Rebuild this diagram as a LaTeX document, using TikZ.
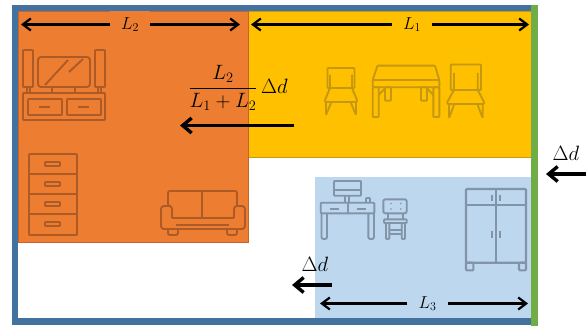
\documentclass[tikz,border=0pt]{standalone}
\usepackage{amsmath}
\usepackage{tikz}
\usetikzlibrary{arrows.meta}
\definecolor{wallblue}{RGB}{68,114,160}
\definecolor{wallgreen}{RGB}{112,173,71}
\definecolor{roomorange}{RGB}{237,125,49}
\definecolor{edgeorange}{RGB}{197,100,40}
\definecolor{roomyellow}{RGB}{255,192,0}
\definecolor{edgeyellow}{RGB}{200,155,10}
\definecolor{roomblue}{RGB}{189,215,238}
\definecolor{iconorange}{RGB}{172,90,38}
\definecolor{iconyellow}{RGB}{198,152,16}
\definecolor{iconblue}{RGB}{130,148,168}
\tikzset{
  dimarrow/.style={line width=2.2pt, -{Straight Barb[length=8pt,width=12pt]}},
  pusharrow/.style={line width=3.4pt, -{Straight Barb[length=9pt,width=15pt]}},
  dimlabel/.style={minimum width=40pt, minimum height=27pt, inner sep=0pt},
  icon/.style={line width=1.9pt, line join=round, rounded corners=0.8pt}
}

\begin{document}
\begin{tikzpicture}[x=1pt, y=-1pt]
  \useasboundingbox (0,0) rectangle (588,326);
  % rooms
  \fill[roomblue] (315,177) rectangle (531,318);
  \draw[edgeyellow, fill=roomyellow] (248,11) rectangle (531,157);
  \draw[edgeorange, fill=roomorange] (18,11) rectangle (248,242);
  % walls
  \fill[wallblue] (12,5) rectangle (18,325);
  \fill[wallblue] (12,5) rectangle (531,11);
  \fill[wallblue] (12,318) rectangle (531,325);
  \fill[wallgreen] (531,5) rectangle (538,326);

  % tv unit
  \begin{scope}[icon, iconorange]
    \draw (23,50) rectangle (33,87);
    \draw (95,50) rectangle (105,87);
    \draw[rounded corners=3pt] (38,57) rectangle (90,87);
    \draw (45,85) -- (68,60) (69,72) -- (83,59);
    \draw (27,87) -- (27,93) (30,87) -- (30,93) (98,87) -- (98,93) (101,87) -- (101,93);
    \draw (52,87) -- (52,93) (75,87) -- (75,93);
    \draw (23,93) rectangle (105,120);
    \draw (28,99) rectangle (62,115) (67,99) rectangle (101,115);
    \draw (39,107) -- (50,107) (78,107) -- (89,107);
  \end{scope}
  % drawers
  \begin{scope}[icon, iconorange]
    \draw (29,154) rectangle (77,235);
    \draw (29,174) -- (77,174) (29,194) -- (77,194) (29,214) -- (77,214);
    \foreach \y in {164,184,204,224}
      \draw (45,\y-2) rectangle (60,\y+2);
  \end{scope}
  % sofa
  \begin{scope}[icon, iconorange]
    \draw[rounded corners=2pt] (171,206) -- (168,206) -- (168,191) -- (237,191) -- (237,206);
    \draw (202,191) -- (202,218);
    \draw (172,218) -- (234,218);
    \draw[rounded corners=3pt] (172,218) -- (172,206) -- (161,206) -- (161,229) -- (245,229) -- (245,206) -- (234,206) -- (234,218);
    \draw (176,225) -- (229,225);
    \draw[rounded corners=2pt] (168,229) -- (168,235) -- (178,235) -- (178,229);
    \draw[rounded corners=2pt] (227,229) -- (227,235) -- (237,235) -- (237,229);
  \end{scope}

  % table and chairs
  \begin{scope}[icon, iconyellow]
    \draw (330,88) -- (327.5,88) -- (327.5,68) -- (354.5,68) -- (354.5,88) -- (352,88);
    \draw (330,75) -- (330,88) -- (352,88) -- (352,75);
    \draw (330,88) -- (325,100) -- (325,102) -- (357,102) -- (357,100) -- (352,88);
    \draw (326,102) -- (326,115) -- (331,103) (356,102) -- (356,115) -- (351,103);
    \draw (377.5,65.7) -- (435,65.7) -- (439.3,80) -- (372.7,80) -- cycle;
    \draw (372.7,80) rectangle (439.3,87.3);
    \draw (372.7,87.3) rectangle (378.7,117) (433.3,87.3) rectangle (439.3,117);
    \draw (385,87.3) rectangle (391,100.7) (421,87.3) rectangle (427,100.7);
    \draw (378.7,95) -- (385,88.3) (433.3,95) -- (427,88.3);
    \draw (454,90) -- (450.7,90) -- (450.7,64.5) -- (481,64.5) -- (481,90) -- (477.7,90);
    \draw (454,73) -- (454,90) -- (477.7,90) -- (477.7,73);
    \draw (454,90) -- (447.3,102) -- (447.3,104) -- (484,104) -- (484,102) -- (477.7,90);
    \draw (449,104) -- (449,118) -- (454,105) (482.7,104) -- (482.7,118) -- (477.7,105);
  \end{scope}

  % desk and chair
  \begin{scope}[icon, iconblue]
    \draw (334,181) rectangle (361,195.7);
    \draw (334,190) -- (361,190);
    \draw (345,195.7) -- (345,202.7) (349.3,195.7) -- (349.3,202.7);
    \draw (366,202.7) -- (366,198) -- (370,198) -- (370,202.7);
    \draw (320.7,202.7) rectangle (374.3,213.3);
    \draw (347.7,202.7) -- (347.7,213.3);
    \draw (330,208.7) -- (339,208.7) (356.7,208.7) -- (365.7,208.7);
    \draw[rounded corners=2pt] (321.5,213.3) -- (321.5,239) -- (327,239) -- (327,213.3);
    \draw[rounded corners=2pt] (368.3,213.3) -- (368.3,239) -- (374,239) -- (374,213.3);
    \draw[rounded corners=2pt] (383.3,199.3) rectangle (406.7,213.3);
    \foreach \x in {391,400.7}
      \foreach \y in {203.5,209}
        \fill (\x-0.8,\y-0.8) rectangle (\x+0.8,\y+0.8);
    \draw (388,213.3) -- (388,219.3) (403,213.3) -- (403,219.3);
    \draw (384,219.3) rectangle (406.7,223);
    \draw (386,223) -- (386,239) -- (389.3,239) -- (389.3,223);
    \draw (401.7,223) -- (401.7,239) -- (405,239) -- (405,223);
    \draw (389.3,230) -- (401.7,230) (389.3,234.3) -- (401.7,234.3);
  \end{scope}
  % wardrobe
  \begin{scope}[icon, iconblue, line width=2.1pt]
    \draw (466,189) rectangle (526,262.7);
    \draw (466,205) -- (526,205);
    \draw (496,189) -- (496,262.7);
    \draw (466,262.7) rectangle (473.3,270.3) (519,262.7) rectangle (526,270.3);
    \draw (492,195) -- (492,201) (500,195) -- (500,201);
    \draw (492,231) -- (492,237.7) (500,231) -- (500,237.7);
  \end{scope}

  % lengths
  \node[dimlabel, fill=roomorange] (lentwo) at (130,24.5) {\raisebox{-4pt}{\LARGE $L_2$}};
  \coordinate (lentwoA) at (21,24.5);
  \coordinate (lentwoB) at (240,24.5);
  \draw[dimarrow] (lentwo) -- (lentwoA);
  \draw[dimarrow] (lentwo) -- (lentwoB);
  \node[dimlabel] (lenone) at (412,24.5) {\raisebox{-4pt}{\LARGE $L_1$}};
  \coordinate (lenoneA) at (251,24.5);
  \coordinate (lenoneB) at (529,24.5);
  \draw[dimarrow] (lenone) -- (lenoneA);
  \draw[dimarrow] (lenone) -- (lenoneB);
  \node[dimlabel] (lenthree) at (427.5,303.5) {\raisebox{-2pt}{\LARGE $L_3$}};
  \coordinate (lenthreeA) at (320,303.5);
  \coordinate (lenthreeB) at (528,303.5);
  \draw[dimarrow] (lenthree) -- (lenthreeA);
  \draw[dimarrow] (lenthree) -- (lenthreeB);

  % shifts
  \node[inner sep=0pt] (shiftfrac) at (238,88) {\huge $\dfrac{L_2}{L_1+L_2}\,\Delta d$};
  \coordinate (shiftmidA) at (294,125.5);
  \coordinate (shiftmidB) at (180,125.5);
  \draw[pusharrow] (shiftmidA) -- (shiftmidB);
  \node[inner sep=0pt] (shiftwall) at (566,153) {\huge $\Delta d$};
  \coordinate (shiftwallA) at (586,174);
  \coordinate (shiftwallB) at (546,174);
  \draw[pusharrow] (shiftwallA) -- (shiftwallB);
  \node[inner sep=0pt] (shiftroom) at (315,264) {\huge $\Delta d$};
  \coordinate (shiftroomA) at (332,285);
  \coordinate (shiftroomB) at (292,285);
  \draw[pusharrow] (shiftroomA) -- (shiftroomB);
\end{tikzpicture}
\end{document}
